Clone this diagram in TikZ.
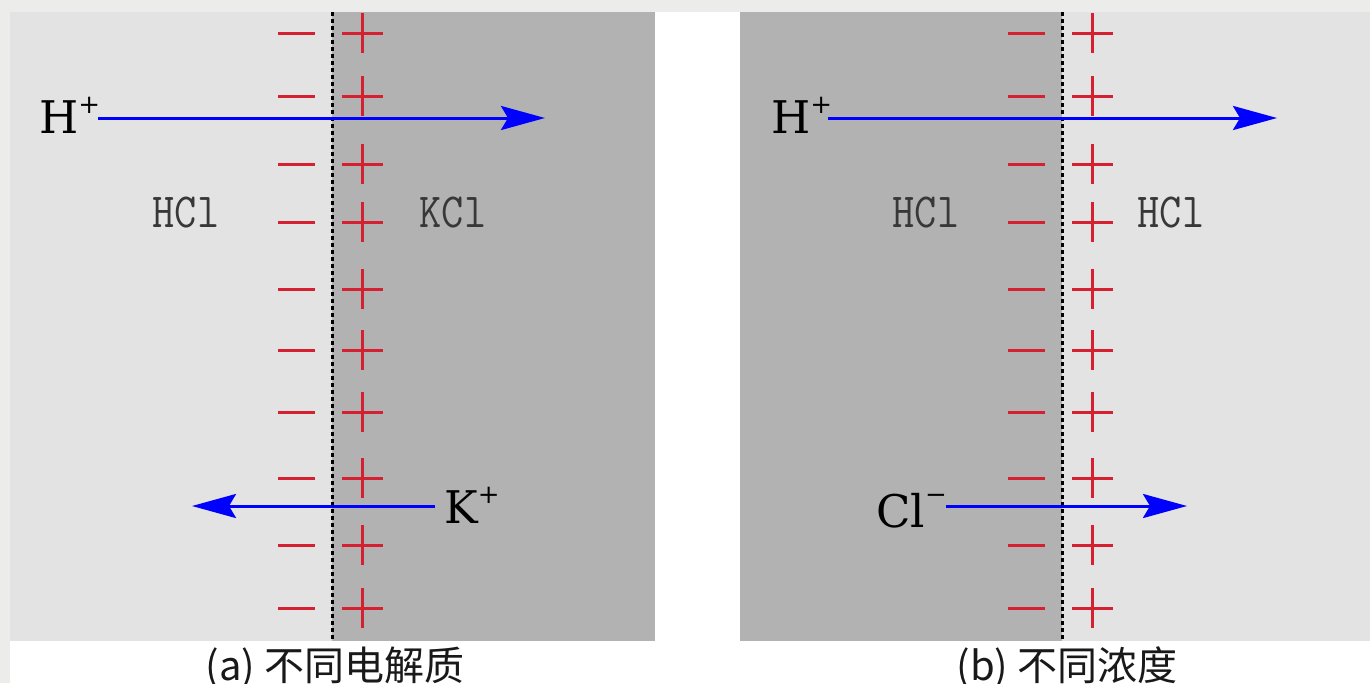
\documentclass[tikz,border=0pt]{standalone}
\usepackage{fontspec}
\setmainfont{DejaVu Serif}
\newfontfamily\cjkf{Noto Sans CJK SC}
\usetikzlibrary{arrows.meta}
\definecolor{bgtex}{HTML}{ECECEA}
\definecolor{lightp}{HTML}{E3E3E3}
\definecolor{darkp}{HTML}{B2B2B2}
\definecolor{sign}{HTML}{D42030}
\definecolor{ion}{HTML}{0000FF}
\newcommand\supp[2]{\raisebox{#1}{\fontsize{26}{26}\selectfont #2}}
\tikzset{
  charge/.style={draw=sign, line width=3pt},
  membrane/.style={draw=black, line width=3pt, dash pattern=on 4pt off 3pt},
  ionarrow/.style={draw=ion, line width=3pt, -{Stealth[length=44pt,width=24pt,inset=7pt]}},
  ionlabel/.style={inner sep=0pt, anchor=base west, text=black, font=\fontsize{45}{45}\selectfont},
  saltlabel/.style={inner sep=0pt, anchor=center, text=black!78, font=\ttfamily\fontsize{49}{49}\selectfont},
  caption/.style={inner sep=0pt, anchor=base, text=black!90, font=\cjkf\fontsize{40}{40}\selectfont},
}
\begin{document}
\begin{tikzpicture}[x=1pt, y=-1pt]
\useasboundingbox (0,0) rectangle (1370,683);
% background
\fill[bgtex] (0,0) rectangle (1370,683);
\fill[white] (10,12) rectangle (1370,683);
% panel a
\fill[lightp] (10,12) rectangle (332,641);
\fill[darkp] (332,12) rectangle (655,641);
% panel b
\fill[darkp] (740,12) rectangle (1062,641);
\fill[lightp] (1062,12) rectangle (1370,641);
% membranes and charges
\foreach \dx in {0,730}{
  \draw[membrane] (332+\dx,12) -- (332+\dx,641);
  \foreach \y in {33,96,164,222,289,350,412,478,545,608}{
    \draw[charge] (278+\dx,\y) -- (315+\dx,\y);
    \draw[charge] (342+\dx,\y) -- (383+\dx,\y);
    \draw[charge] (362+\dx,\y-20) -- (362+\dx,\y+20);
  }
}
% labels panel a
\node[ionlabel] (Ha) at (39,133) {H\supp{20pt}{+}};
\node[ionlabel] (Ka) at (444,523) {K\supp{20pt}{+}};
\node[saltlabel] (HCla) at (186,213) {\scalebox{0.88}[1]{HCl}};
\node[saltlabel] (KCla) at (453,213) {\scalebox{0.88}[1]{KCl}};
% labels panel b
\node[ionlabel] (Hb) at (771,133) {H\supp{20pt}{+}};
\node[ionlabel] (Clb) at (876,527) {Cl\supp{24pt}{−}};
\node[saltlabel] (HClb1) at (926,213) {\scalebox{0.88}[1]{HCl}};
\node[saltlabel] (HClb2) at (1171,213) {\scalebox{0.88}[1]{HCl}};
% arrows
\coordinate (HaS) at (98,118);
\coordinate (HaE) at (545,118);
\coordinate (KaS) at (435,506);
\coordinate (KaE) at (192,506);
\coordinate (HbS) at (828,118);
\coordinate (HbE) at (1277,118);
\coordinate (ClS) at (946,506);
\coordinate (ClE) at (1187,506);
\draw[ionarrow] (HaS) -- (HaE);
\draw[ionarrow] (KaS) -- (KaE);
\draw[ionarrow] (HbS) -- (HbE);
\draw[ionarrow] (ClS) -- (ClE);
% captions
\node[caption] (capa) at (335,680) {(a) 不同电解质};
\node[caption] (capb) at (1067,680) {(b) 不同浓度};
\end{tikzpicture}
\end{document}
